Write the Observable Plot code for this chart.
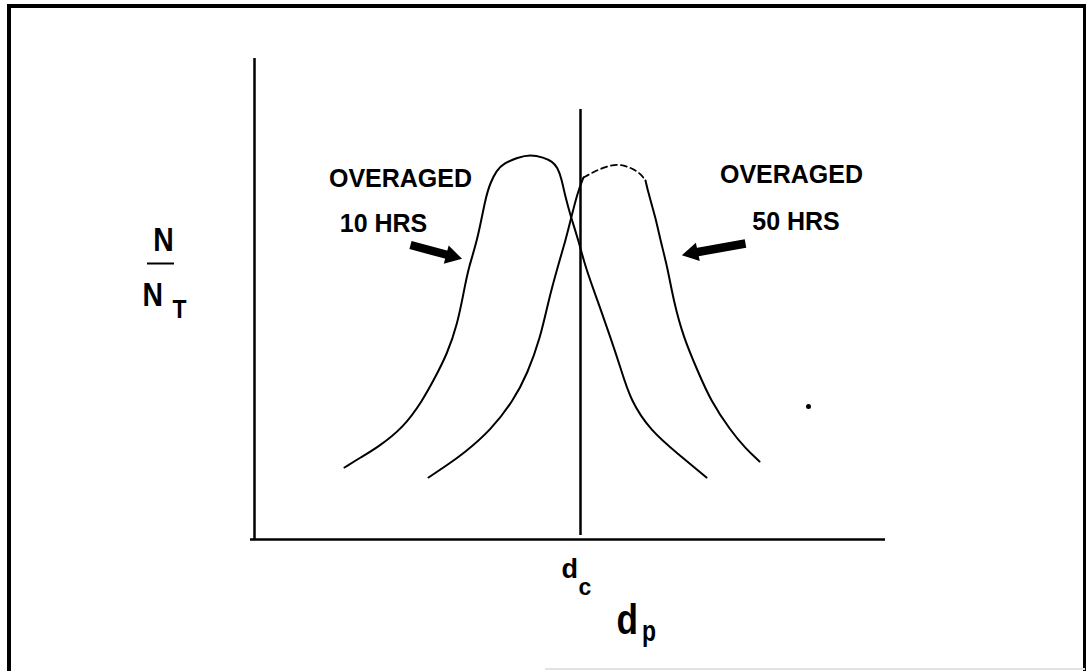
<!DOCTYPE html>
<html><head><meta charset="utf-8">
<script src="https://cdn.jsdelivr.net/npm/d3@7"></script>
<script src="https://cdn.jsdelivr.net/npm/@observablehq/plot@0.6"></script>
<style>
html,body{margin:0;padding:0;background:#fff;}
#wrap{position:relative;width:1092px;height:671px;overflow:hidden;background:#fff;}
#chart{position:absolute;left:0;top:0;}
#frame{position:absolute;left:7px;top:4px;width:1079px;height:700px;border-top:4px solid #000;border-left:4px solid #000;border-right:3px solid #000;box-sizing:border-box;pointer-events:none;}
#scan{position:absolute;left:545px;top:668px;width:540px;height:2px;background:#e2e2e2;}
</style></head>
<body><div id="wrap"><div id="chart"></div><div id="frame"></div><div id="scan"></div></div>
<script>
const curve10x = [1.80,2.12,2.46,2.98,3.36,3.58,3.86,4.06,4.18,4.28,4.46,4.62,4.72,4.84,4.98,5.26,5.52,5.78,5.96,6.06,6.14,6.22,6.32,6.48,6.62,6.86,7.12,7.32,7.52,7.92,8.46,9.04];
const curve10y = [0.144,0.164,0.184,0.224,0.278,0.318,0.372,0.432,0.492,0.544,0.598,0.684,0.714,0.738,0.752,0.764,0.770,0.764,0.756,0.744,0.722,0.684,0.648,0.598,0.544,0.478,0.404,0.344,0.278,0.218,0.172,0.124];
const curve50x = [3.48,3.84,4.18,4.72,5.18,5.46,5.72,5.88,6.06,6.22,6.32,6.46,6.58,6.76,6.98,7.26,7.52,7.72,7.82,7.88,8.02,8.12,8.26,8.38,8.58,8.86,9.12,9.52,9.82,10.10];
const curve50y = [0.124,0.148,0.172,0.218,0.278,0.332,0.404,0.478,0.544,0.598,0.638,0.694,0.724,0.734,0.744,0.752,0.744,0.732,0.718,0.692,0.644,0.598,0.544,0.478,0.404,0.338,0.278,0.218,0.182,0.156];
// broken (dashed-looking) top of the 50 HRS curve in the scan
const curve50Dashed = [6.58, 7.82];

const xAxisSpan = [-0.08, 12.62];
const yAxisTop = 0.962;
const dc = 6.52;
const dcTop = 0.86;

const labelText = ["OVERAGED", "10 HRS", "OVERAGED", "50 HRS"];
const labelX = [2.92, 2.58, 10.74, 10.83];
const labelY = [0.706, 0.616, 0.714, 0.620];

const arrowTailX = [3.12, 9.82];
const arrowTailY = [0.589, 0.592];
const arrowHeadX = [3.94, 8.76];
const arrowHeadY = [0.567, 0.573];
const arrowAngle = [105, 258];

const speckX = [11.08];
const speckY = [0.266];

const toPts = (xs, ys) => xs.map((x, i) => ({x, y: ys[i]}));
function split(xs, ys, [lo, hi]) {
  const p = toPts(xs, ys);
  return {
    a: p.filter(d => d.x <= lo),
    dash: p.filter(d => d.x >= lo && d.x <= hi),
    b: p.filter(d => d.x >= hi)
  };
}
const c10 = toPts(curve10x, curve10y);
const c50 = split(curve50x, curve50y, curve50Dashed);
const labels = labelText.map((t, i) => ({t, x: labelX[i], y: labelY[i]}));
const arrows = arrowTailX.map((x, i) => ({x1: x, y1: arrowTailY[i], x2: arrowHeadX[i], y2: arrowHeadY[i], r: arrowAngle[i]}));
const specks = toPts(speckX, speckY);

const bold = "'Liberation Sans', Arial, Helvetica, sans-serif";
const lineOpts = {x: "x", y: "y", curve: "basis", stroke: "#000", strokeWidth: 2};
const sym = (t) => ({x: "x", y: "y", text: () => t, lineAnchor: "bottom", fontFamily: bold, fontWeight: "bold", fill: "#000"});

const chart = Plot.plot({
  width: 1092, height: 671,
  marginLeft: 254, marginRight: 207, marginTop: 58, marginBottom: 132,
  x: {domain: [0, 12.62], axis: null},
  y: {domain: [0, yAxisTop], axis: null},
  style: {background: "transparent", overflow: "visible"},
  marks: [
    Plot.ruleY([0], {x1: xAxisSpan[0], x2: xAxisSpan[1], stroke: "#000", strokeWidth: 2.5}),
    Plot.ruleX([0], {y1: 0, y2: yAxisTop, stroke: "#000", strokeWidth: 2.5}),
    Plot.ruleX([dc], {y1: 0.008, y2: dcTop, stroke: "#000", strokeWidth: 2.5}),
    Plot.line(c10, lineOpts),
    Plot.line(c50.a, lineOpts),
    Plot.line(c50.dash, {...lineOpts, strokeWidth: 1.8, strokeDasharray: "6,4"}),
    Plot.line(c50.b, lineOpts),
    Plot.link(arrows, {x1: "x1", y1: "y1", x2: "x2", y2: "y2", stroke: "#000", strokeWidth: 8.5}),
    Plot.dot(arrows, {x: "x2", y: "y2", symbol: "triangle", r: 7, fill: "#000", stroke: "none", rotate: "r"}),
    Plot.dot(specks, {x: "x", y: "y", r: 2.5, fill: "#000", stroke: "none"}),
    Plot.text(labels, {x: "x", y: "y", text: "t", textAnchor: "middle", lineAnchor: "bottom", fontFamily: bold, fontWeight: "bold", fontSize: 25, fill: "#000"}),
    // N / N_T
    Plot.text([{x: -1.82, y: 0.578}], {...sym("N"), textAnchor: "middle", fontSize: 33}),
    Plot.ruleY([0.552], {x1: -2.14, x2: -1.60, stroke: "#000", strokeWidth: 2}),
    Plot.text([{x: -2.24, y: 0.468}], {...sym("N"), textAnchor: "start", fontSize: 33}),
    Plot.text([{x: -1.64, y: 0.444}], {...sym("T"), textAnchor: "start", fontSize: 26}),
    // d_c
    Plot.text([{x: 6.14, y: -0.076}], {...sym("d"), textAnchor: "start", fontSize: 27}),
    Plot.text([{x: 6.48, y: -0.11}], {...sym("c"), textAnchor: "start", fontSize: 23}),
    // d_p
    Plot.text([{x: 7.24, y: -0.188}], {...sym("d"), textAnchor: "start", fontSize: 42}),
    Plot.text([{x: 7.75, y: -0.202}], {...sym("p"), textAnchor: "start", fontSize: 29})
  ]
});
// the original lettering is a condensed bold face: narrow the single glyphs
const narrowTo = {"N|33": 20.5, "d|42": 21.5, "p|29": 14, "T|26": 14};
d3.select(chart).selectAll("text").each(function () {
  const g = this.closest("g[font-size]");
  const key = this.textContent + "|" + (g ? g.getAttribute("font-size") : "");
  if (narrowTo[key]) {
    this.setAttribute("textLength", narrowTo[key]);
    this.setAttribute("lengthAdjust", "spacingAndGlyphs");
  }
});
document.getElementById("chart").appendChild(chart);
</script>
</body></html>
